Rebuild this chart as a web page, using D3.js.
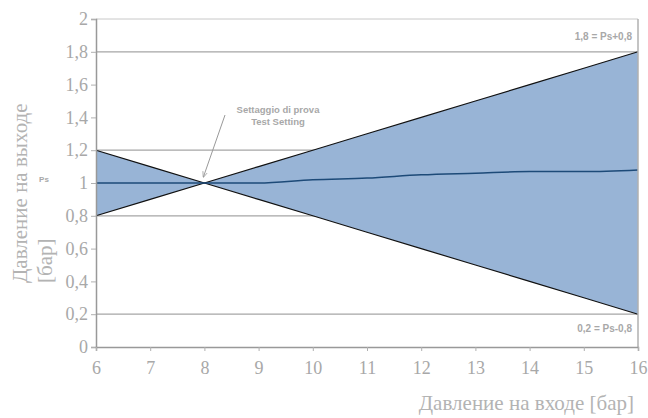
<!DOCTYPE html>
<html><head><meta charset="utf-8">
<script src="https://cdn.jsdelivr.net/npm/d3@7"></script>
<style>body{margin:0;background:#fff;} svg{display:block;}</style>
</head><body>
<script>
const xTicks = [6,7,8,9,10,11,12,13,14,15,16];
const yTicks = [0,0.2,0.4,0.6,0.8,1,1.2,1.4,1.6,1.8,2];
const gridValues = [0.2,0.8,1.2,1.8];
const inletP = [6,7,8,9,10,11,12,13,14,15,16];
const upperBound = [1.2,1.1,1.0,1.1,1.2,1.3,1.4,1.5,1.6,1.7,1.8];
const lowerBound = [0.8,0.9,1.0,0.9,0.8,0.7,0.6,0.5,0.4,0.3,0.2];
const lineA = [1.2,1.1,1.0,0.9,0.8,0.7,0.6,0.5,0.4,0.3,0.2];
const lineB = [0.8,0.9,1.0,1.1,1.2,1.3,1.4,1.5,1.6,1.7,1.8];
const outletP = [1.0,1.0,1.0,1.0,1.02,1.03,1.05,1.06,1.07,1.07,1.08];

const W=648,H=418;
const m={l:96,r:10,t:19,b:71};
const svg=d3.select("body").append("svg").attr("width",W).attr("height",H);
const x=d3.scaleLinear().domain([6,16]).range([m.l,W-m.r]);
const y=d3.scaleLinear().domain([0,2]).range([H-m.b,m.t]);
const grey="#a6a6a6", txt="#a8a8a8";
const serif="'Liberation Serif', 'DejaVu Serif', serif";
const sans="'Liberation Sans', Arial, sans-serif";

// top frame
svg.append("line").attr("x1",x(6)).attr("x2",x(16)).attr("y1",y(2)).attr("y2",y(2)).attr("stroke","#c8c8c8").attr("stroke-width",1);
// grid lines
svg.selectAll(".grid").data(gridValues).enter().append("line")
  .attr("x1",x(6)).attr("x2",x(16)).attr("y1",d=>y(d)).attr("y2",d=>y(d))
  .attr("stroke",grey).attr("stroke-width",1.2);

// fill area
const idx=d3.range(inletP.length);
svg.append("path").datum(idx)
  .attr("d",d3.area().x(i=>x(inletP[i])).y0(i=>y(lowerBound[i])).y1(i=>y(upperBound[i])))
  .attr("fill","#98b4d6");

// boundary lines
[lineA,lineB].forEach(arr=>{
  svg.append("path").datum(idx)
    .attr("d",d3.line().x(i=>x(inletP[i])).y(i=>y(arr[i])))
    .attr("fill","none").attr("stroke","#111").attr("stroke-width",1.2);
});
// outlet pressure curve
svg.append("path").datum(idx)
  .attr("d",d3.line().curve(d3.curveMonotoneX).x(i=>x(inletP[i])).y(i=>y(outletP[i])))
  .attr("fill","none").attr("stroke","#1d4a78").attr("stroke-width",1.5);

// right frame
svg.append("line").attr("x1",x(16)).attr("x2",x(16)).attr("y1",y(2)).attr("y2",y(0)).attr("stroke","#b0b0b0").attr("stroke-width",1.5);

// axes
const ya=svg.append("g").attr("transform",`translate(${x(6)},0)`)
  .call(d3.axisLeft(y).tickValues(yTicks).tickSize(5).tickPadding(3).tickFormat(d=>d3.format("~g")(d).replace(".",",")));
const xa=svg.append("g").attr("transform",`translate(0,${y(0)})`)
  .call(d3.axisBottom(x).tickValues(xTicks).tickSize(4).tickPadding(10).tickFormat(d3.format("d")));
[ya,xa].forEach(g=>{
  g.select(".domain").attr("stroke","#999").attr("stroke-width",1.5);
  g.selectAll(".tick line").attr("stroke","#b0b0b0");
  g.selectAll("text").attr("fill",txt).attr("font-family",serif).attr("font-size",18);
});

// axis titles
svg.append("text").attr("transform","translate(27,283) rotate(-90)")
  .attr("font-family",serif).attr("font-size",21).attr("fill","#b3b3b3").text("Давление на выходе");
svg.append("text").attr("transform","translate(52,283) rotate(-90)")
  .attr("font-family",serif).attr("font-size",21).attr("fill","#b3b3b3").text("[бар]");
svg.append("text").attr("x",634).attr("y",410).attr("text-anchor","end")
  .attr("font-family",serif).attr("font-size",21).attr("fill","#b3b3b3").text("Давление на входе [бар]");

// annotations
const ann=(tx,ty,s,anchor,fs)=>svg.append("text").attr("x",tx).attr("y",ty).attr("text-anchor",anchor||"middle")
  .attr("font-family",sans).attr("font-weight","bold").attr("font-size",fs||9.5).attr("fill",txt).text(s);
ann(44,182,"Ps","middle",8);
ann(278,113,"Settaggio di prova");
ann(278,125,"Test Setting");
ann(632,40,"1,8 = Ps+0,8","end",10);
ann(632,332,"0,2 = Ps-0,8","end",10);

// arrow
svg.append("defs").append("marker").attr("id","ah").attr("viewBox","0 0 10 10").attr("refX",9).attr("refY",5)
  .attr("markerWidth",6).attr("markerHeight",6).attr("orient","auto")
  .append("path").attr("d","M0,1 L10,5 L0,9").attr("fill","none").attr("stroke","#999").attr("stroke-width",1.2);
svg.append("line").attr("x1",225).attr("y1",115).attr("x2",x(8)-1).attr("y2",y(1)-6)
  .attr("stroke","#999").attr("stroke-width",1).attr("marker-end","url(#ah)");
</script>
</body></html>
